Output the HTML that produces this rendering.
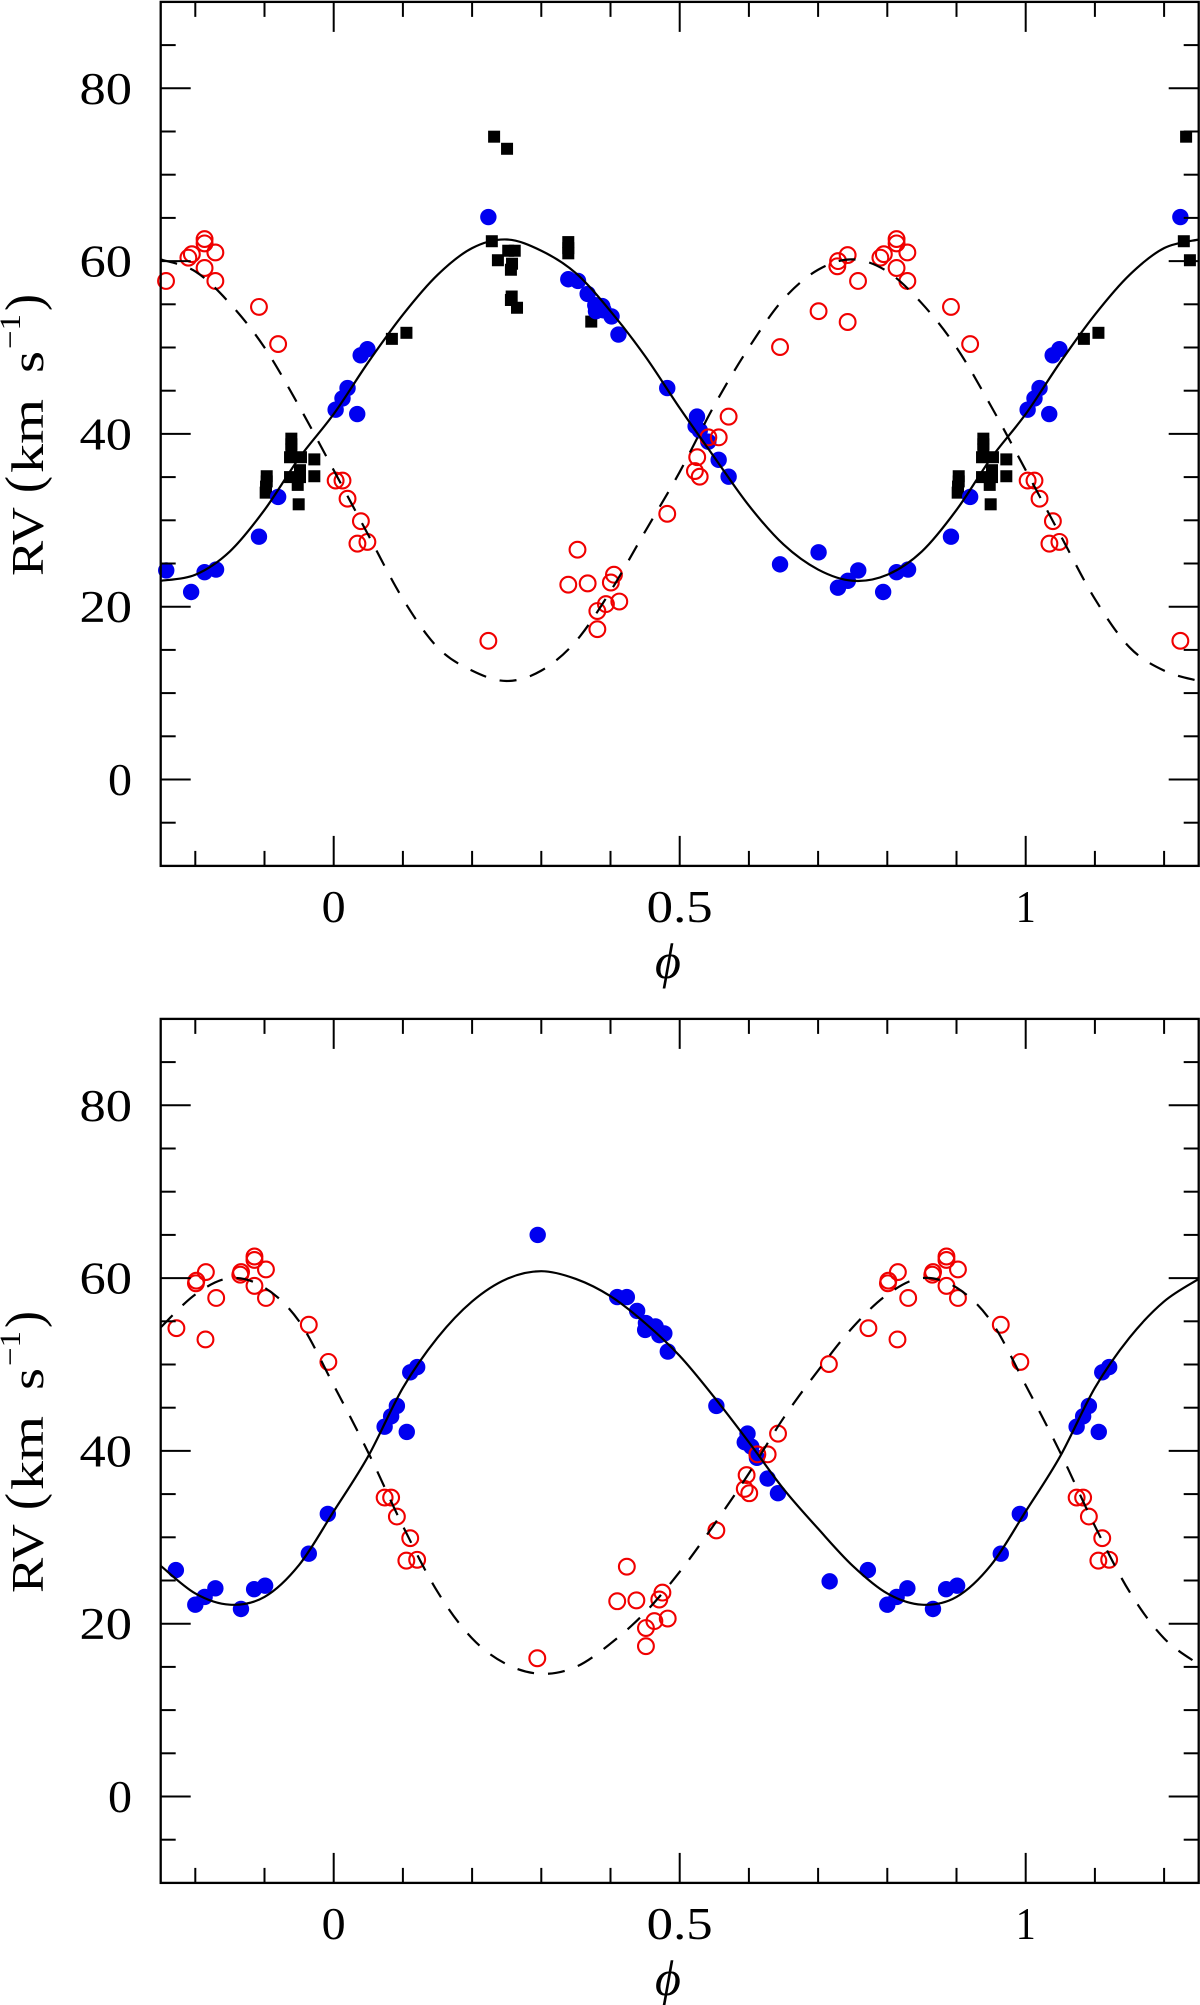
<!DOCTYPE html>
<html lang="en">
<head>
<meta charset="utf-8">
<title>Radial velocity curves</title>
<style>
html,body{margin:0;padding:0;background:#fff;width:1200px;height:2005px;overflow:hidden}
svg{display:block;position:absolute;left:0;top:0}
text{font-family:"Liberation Serif","DejaVu Serif",serif;fill:#000}
</style>
</head>
<body>
<svg id="chart" xmlns="http://www.w3.org/2000/svg" width="1200" height="2005" viewBox="0 0 1200 2005"></svg>
<script>
// Tick values and labels
const xMinorTicks = [-0.2,-0.1,0.1,0.2,0.3,0.4,0.6,0.7,0.8,0.9,1.1,1.2];
const xMajorTicks = [0,0.5,1];
const xTickLabels = ['0','0.5','1'];
const yMinorTicks = [-5,5,10,15,25,30,35,45,50,55,65,70,75,85];
const yMajorTicks = [0,20,40,60,80];
const yTickLabels = ['0','20','40','60','80'];

// Model curves, read at these orbital phases over one period
const curvePhases = [0,.05,.1,.15,.2,.25,.3,.35,.4,.45,.5,.55,.6,.65,.7,.75,.8,.85,.9,.95];
const topSolidCurve = [42.3,48.3,53.8,58.4,61.5,62.5,61.2,58.6,54.2,49,43,37.3,31.7,27.2,24.3,23,23.7,26.4,31.2,37.2];
const topDashedCurve = [35.8,28.3,20.9,15.3,12.6,11.4,12.6,16,21.8,28.7,35.6,43.3,50,55.6,59,60.2,58.8,55.1,50,43.2];
const bottomSolidCurve = [33,39.4,47.3,53.1,57.3,59.9,60.8,59.9,57.9,54.8,51,46.2,41,35.6,31,26.7,23.5,22.2,23.1,26.8];
const bottomDashedCurve = [47.6,39.8,31.3,23.7,18.3,15.3,14.2,15,17.7,21.3,26,31.5,37.4,43.8,49.3,54.3,58.1,60,58.9,55];

// Top panel observations
const topBluePhase = [.2235,.339,.353,.367,.378,.379,.388,.390,.4015,.4115,.482,.525,.523,.529,.5414,.5563,.5707,.645,.7007,.7287,.743,.758,.794,.8134,.830,.892,.9197,.0028,.0127,.02,.034,.039,.0487];
const topBlueRV = [65.1,57.9,57.7,56.2,54.9,54.2,54.8,54.3,53.6,51.5,45.3,42,40.9,40.4,39.1,37,35.05,24.9,26.3,22.2,23,24.2,21.7,24,24.3,28.1,32.7,42.8,44.1,45.3,42.3,49.1,49.8];
const topRedPhase = [.5707,.5414,.5564,.5253,.522,.5289,.645,.7007,.7427,.7289,.7278,.7427,.7577,.790,.795,.8134,.8134,.829,.8134,.829,.892,.9197,.482,.0028,.0127,.02,.0393,.0343,.0487,.2235,.339,.367,.3523,.405,.4005,.4127,.3934,.381,.381];
const topRedRV = [42,39.6,39.6,37.3,35.7,35.05,50.05,54.2,52.95,60,59.4,60.7,57.7,60.4,60.8,62.55,62.05,61,59.2,57.7,54.7,50.4,30.75,34.6,34.6,32.5,29.9,27.3,27.5,16.05,22.55,22.7,26.6,23.7,22.8,20.6,20.3,19.5,17.4];
const topBlackPhase = [.2318,.2505,.2285,.2373,.2522,.2616,.2577,.2561,.2572,.2561,.2649,.339,.339,.339,.3722,.0841,.1051,.9388,.9388,.9388,.9369,.9527,.972,.972,.9369,.9513,.9513,.948,.9494,.9032,.9032,.9022,.9017];
const topBlackRV = [74.4,73,62.3,60.1,61.2,61.2,59.7,59,55.9,55.5,54.6,62.2,61.5,60.9,53,51,51.7,39.45,38.8,38.2,37.3,37.3,37.05,35.1,35,35.8,35,34.1,31.85,35.1,34.5,33.9,33.2];

// Bottom panel observations
const bottomBluePhase = [.2948,.4097,.4236,.4385,.4512,.4651,.4501,.4706,.4778,.4828,.553,.598,.594,.6034,.6116,.627,.642,.7167,.7719,.8,.8135,.829,.866,.885,.9009,.964,.9915,.0736,.083,.0913,.1056,.1106,.1206];
const bottomBlueRV = [65,57.8,57.8,56.2,54.8,54.4,54,53.4,53.6,51.5,45.2,42,41,40.5,39.2,36.8,35.1,24.9,26.2,22.2,23.1,24.1,21.7,24,24.4,28.1,32.7,42.8,44,45.2,42.2,49.1,49.7];
const bottomRedPhase = [.7727,.8147,.8009,.8015,.8153,.8302,.8661,.865,.8855,.8855,.9021,.8855,.9021,.964,.9923,.0736,.083,.0913,.1106,.105,.1206,.2942,.6421,.6122,.6271,.5967,.594,.6005,.7156,.553,.475,.4705,.4827,.4634,.4512,.4512,.4097,.4374,.4236];
const bottomRedRV = [54.2,52.9,59.4,59.7,60.7,57.7,60.7,60.4,62.5,62.1,61,59.1,57.7,54.6,50.3,34.6,34.6,32.4,29.9,27.3,27.4,16,42,39.6,39.6,37.2,35.6,35.1,50.05,30.8,23.6,22.8,20.6,20.3,19.5,17.4,22.6,22.7,26.6];

const svg = document.getElementById('chart');
const NS = 'http://www.w3.org/2000/svg';
const phiMin = -0.25, phiMax = 1.25;

function make(parent, tag, attrs, text) {
  const el = document.createElementNS(NS, tag);
  for (const k in attrs) el.setAttribute(k, attrs[k]);
  if (text !== undefined) el.textContent = text;
  parent.appendChild(el);
  return el;
}

const xScale = phi => 333.7 + 692 * phi;

function drawPanel(panelName, zeroY, blackP, blackV, blueP, blueV, redP, redV, solid, dashed, phiBaseline) {
  const yScale = v => zeroY - 8.64 * v;
  const top = yScale(90), bottom = yScale(-10);
  const left = xScale(phiMin), right = xScale(phiMax);

  const g = make(svg, 'g', {});
  
  

  const wraps = [-1, 0, 1];

  // black squares
  if (blackP) {
    const gk = make(g, 'g', {});
    
    
    blackP.forEach((p, i) => {
      wraps.forEach(k => {
        const phi = p + k;
        if (phi < phiMin || phi > phiMax) return;
        const r = make(gk, 'rect', {x: xScale(phi) - 6, y: yScale(blackV[i]) - 6, width: 12, height: 12, fill: '#000'});
        
        
      });
    });
  }

  // blue discs
  const gb = make(g, 'g', {});
  
  
  blueP.forEach((p, i) => {
    wraps.forEach(k => {
      const phi = p + k;
      if (phi < phiMin || phi > phiMax) return;
      const c = make(gb, 'circle', {cx: xScale(phi), cy: yScale(blueV[i]), r: 8.2, fill: '#0000f0'});
      
      
    });
  });

  // red rings
  const gr = make(g, 'g', {});
  
  
  redP.forEach((p, i) => {
    wraps.forEach(k => {
      const phi = p + k;
      if (phi < phiMin || phi > phiMax) return;
      const c = make(gr, 'circle', {cx: xScale(phi), cy: yScale(redV[i]), r: 7.9, fill: 'none', stroke: '#f00000', 'stroke-width': 2.1});
      
      
    });
  });

  // curves: one-period readings repeated across the phase range
  function curvePath(values) {
    const pts = [];
    for (let k = -1; k <= 1; k++) {
      curvePhases.forEach((p, i) => {
        const phi = p + k;
        if (phi >= phiMin - 1e-6 && phi <= phiMax + 1e-6) pts.push([xScale(phi), yScale(values[i])]);
      });
    }
    let d = 'M' + pts[0][0].toFixed(2) + ' ' + pts[0][1].toFixed(2);
    for (let i = 0; i < pts.length - 1; i++) {
      const p0 = pts[Math.max(i - 1, 0)], p1 = pts[i], p2 = pts[i + 1], p3 = pts[Math.min(i + 2, pts.length - 1)];
      const c1x = p1[0] + (p2[0] - p0[0]) / 6, c1y = p1[1] + (p2[1] - p0[1]) / 6;
      const c2x = p2[0] - (p3[0] - p1[0]) / 6, c2y = p2[1] - (p3[1] - p1[1]) / 6;
      d += 'C' + c1x.toFixed(2) + ' ' + c1y.toFixed(2) + ' ' + c2x.toFixed(2) + ' ' + c2y.toFixed(2) + ' ' + p2[0].toFixed(2) + ' ' + p2[1].toFixed(2);
    }
    return d;
  }
  const solidLine = make(g, 'path', {d: curvePath(solid), fill: 'none', stroke: '#000', 'stroke-width': 2.2});
  
  
  const dashLine = make(g, 'path', {d: curvePath(dashed), fill: 'none', stroke: '#000', 'stroke-width': 2.2, 'stroke-dasharray': '17 14'});
  
  

  // frame
  const frame = make(g, 'rect', {x: left, y: top, width: right - left, height: bottom - top, fill: 'none', stroke: '#000', 'stroke-width': 2.3});
  
  

  // ticks
  const gt = make(g, 'g', {stroke: '#000', 'stroke-width': 2});
  
  
  const xTick = (phi, len) => {
    const x = xScale(phi);
    const a = make(gt, 'line', {x1: x, x2: x, y1: top, y2: top + len});
    
    
    const b = make(gt, 'line', {x1: x, x2: x, y1: bottom, y2: bottom - len});
    
    
  };
  const yTick = (v, len) => {
    const y = yScale(v);
    const a = make(gt, 'line', {x1: left, x2: left + len, y1: y, y2: y});
    
    
    const b = make(gt, 'line', {x1: right, x2: right - len, y1: y, y2: y});
    
    
  };
  xMinorTicks.forEach(v => xTick(v, 15));
  xMajorTicks.forEach(v => xTick(v, 30));
  yMinorTicks.forEach(v => yTick(v, 15));
  yMajorTicks.forEach(v => yTick(v, 30));

  // y tick labels
  yMajorTicks.forEach((v, i) => {
    const label = yTickLabels[i];
    const w = label.length === 1 ? 24 : 52.5;
    const t = make(g, 'text', {x: 132 - w, y: yScale(v) + 15.5, 'font-size': 45, textLength: w, lengthAdjust: 'spacingAndGlyphs'}, label);
    
    
  });

  // x tick labels
  const xWidths = {'0': 24, '0.5': 66, '1': 20};
  xMajorTicks.forEach((v, i) => {
    const label = xTickLabels[i];
    const w = xWidths[label];
    const t = make(g, 'text', {x: xScale(v) - w / 2, y: bottom + 56, 'font-size': 45, textLength: w, lengthAdjust: 'spacingAndGlyphs'}, label);
    
    
  });

  // x axis title
  const xt = make(g, 'text', {x: 668, y: phiBaseline, 'font-size': 50, 'font-style': 'italic', 'text-anchor': 'middle'}, '\u03D5');
  
  

  // y axis title, pieces placed along the rotated axis
  const offset = zeroY - 779.5;
  const yTitle = make(g, 'g', {});
  
  
  const piece = (str, bx, by, size, len) => {
    const t = make(yTitle, 'text', {transform: 'translate(' + bx + ',' + (by + offset) + ') rotate(-90)', 'font-size': size, textLength: len, lengthAdjust: 'spacingAndGlyphs'}, str);
    
    
  };
  piece('RV', 43, 576, 46, 69);
  piece('(', 41, 493, 52, 17);
  piece('km', 43, 473, 46, 74);
  piece('s', 43, 373, 46, 22);
  piece('\u22121', 20, 349, 30, 35);
  piece(')', 41, 311, 52, 17);
}

drawPanel('top-rv-panel', 779.5, topBlackPhase, topBlackRV, topBluePhase, topBlueRV, topRedPhase, topRedRV, topSolidCurve, topDashedCurve, 978);
drawPanel('bottom-rv-panel', 1796.5, null, null, bottomBluePhase, bottomBlueRV, bottomRedPhase, bottomRedRV, bottomSolidCurve, bottomDashedCurve, 1995);
</script>
</body>
</html>
